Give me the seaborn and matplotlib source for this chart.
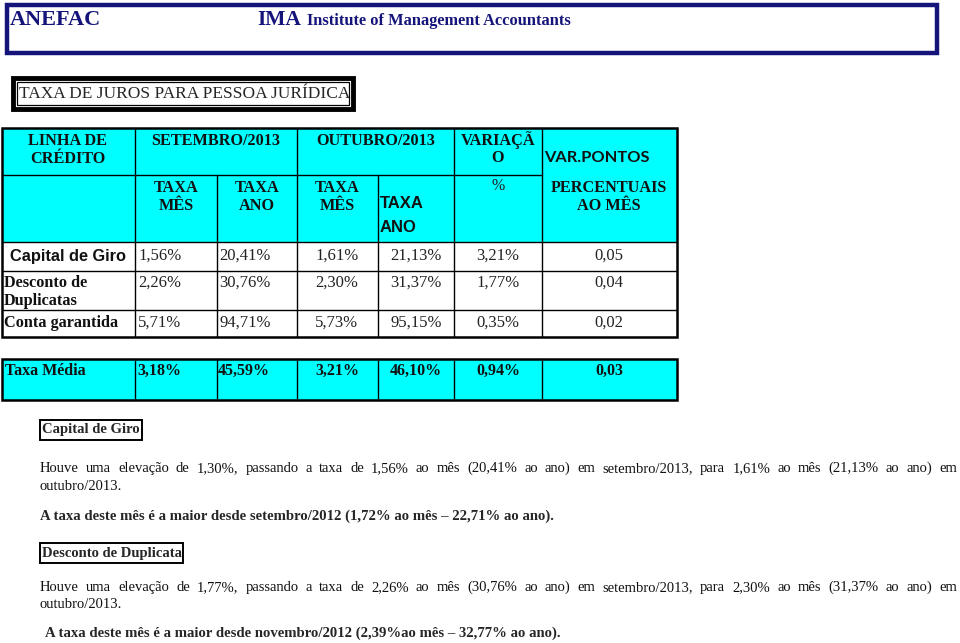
import matplotlib
matplotlib.use("Agg")
import matplotlib.pyplot as plt
from matplotlib.patches import Rectangle
import seaborn as sns

sns.set_theme(style="white")
plt.rcParams['font.family'] = ['Liberation Serif', 'DejaVu Sans']

# ---- data ----
linhas = ["Capital de Giro", "Desconto de\nDuplicatas", "Conta garantida"]
set_mes = [1.56, 2.26, 5.71]
set_ano = [20.41, 30.76, 94.71]
out_mes = [1.61, 2.30, 5.73]
out_ano = [21.13, 31.37, 95.15]
variacao = [3.21, 1.77, 0.35]
var_pontos = [0.05, 0.04, 0.02]
media = [3.18, 45.59, 3.21, 46.10, 0.94, 0.03]

txt_giro = ["Houve uma elevação de 1,30%, passando a taxa de 1,56% ao mês (20,41% ao ano) em setembro/2013, para 1,61% ao mês (21,13% ao ano) em",
            "outubro/2013.",
            "A taxa deste mês é a maior desde setembro/2012 (1,72% ao mês – 22,71% ao ano)."]
txt_dup = ["Houve uma elevação de 1,77%, passando a taxa de 2,26% ao mês (30,76% ao ano) em setembro/2013, para 2,30% ao mês (31,37% ao ano) em",
           "outubro/2013.",
           "A taxa deste mês é a maior desde novembro/2012 (2,39%ao mês – 32,77% ao ano)."]

def pct(v):
    return f"{v:.2f}".replace('.', ',') + '%'

def num(v):
    return f"{v:.2f}".replace('.', ',')

NAVY = "#14147a"
CYAN = "#00ffff"

fig = plt.figure(figsize=(9.6, 6.43), dpi=100)
ax = fig.add_axes([0, 0, 1, 1])
ax.set_xlim(0, 960)
ax.set_ylim(643, 0)
ax.axis('off')

def box(x0, y0, x1, y1, fc='none', ec='black', lw=1.0, z=1):
    ax.add_patch(Rectangle((x0, y0), x1 - x0, y1 - y0, facecolor=fc,
                           edgecolor=ec, lw=lw, zorder=z))

def line(x0, y0, x1, y1, lw=1.0):
    ax.plot([x0, x1], [y0, y1], color='black', lw=lw, zorder=3)

def stack(x, ys, parts, **kw):
    # one text per line so the line gap can follow the picture
    for y, p in zip(ys, parts):
        ax.text(x, y, p, va='center', **kw)

# ---- top banner ----
box(7, 5, 937, 53, ec=NAVY, lw=3.2)
ax.text(10, 20, "ANEFAC", color=NAVY, fontsize=16, fontweight='bold', va='center')
ax.text(257, 20, "IMA", color=NAVY, fontsize=15.5, fontweight='bold', va='center')
ax.text(307, 21, "Institute of Management Accountants", color=NAVY,
        fontsize=11.8, fontweight='bold', va='center')

# ---- title box ----
box(13, 78, 353, 109, lw=3.5)
box(17, 82, 349, 105, lw=0.9)
ax.text(19, 94, "TAXA DE JUROS PARA PESSOA JURÍDICA", fontsize=12.5, va='center')

# ---- main table ----
cols = [2, 135, 217, 297, 378, 454, 542, 677]
rows = [128, 175, 242, 271, 310, 337]
box(cols[0], rows[0], cols[-1], rows[2], fc=CYAN, ec='none', z=0)
box(cols[0], rows[0], cols[-1], rows[-1], lw=1.8, z=4)
line(cols[0], rows[1], cols[6], rows[1])
for r in rows[2:5]:
    line(cols[0], r, cols[-1], r)
for c in [135, 297, 454, 542]:
    line(c, rows[0], c, rows[-1])
for c in [217, 378]:
    line(c, rows[1], c, rows[-1])

hb = dict(fontsize=11.7, fontweight='bold', color='#111111', ha='center')
stack(68, [141, 159], ["LINHA DE", "CRÉDITO"], **hb)
ax.text(216, 141, "SETEMBRO/2013", va='center', **hb)
ax.text(376, 141, "OUTUBRO/2013", va='center', **hb)
stack(498, [140, 158], ["VARIAÇÃ", "O"], **hb)
ax.text(544, 158, "VAR.PONTOS", ha='left', va='center', fontsize=11.8,
        fontweight='bold', family='Lato', color='#111111')
for cx, lab in [(176, ["TAXA", "MÊS"]), (257, ["TAXA", "ANO"]), (337, ["TAXA", "MÊS"])]:
    stack(cx, [188, 206], lab, **hb)
stack(380, [203, 228], ["TAXA", "ANO"], ha='left', fontsize=12,
      fontweight='bold', family='Liberation Sans', color='#111111')
ax.text(498, 186, "%", ha='center', va='center', fontsize=11.5, color='#222222')
stack(609, [188, 206], ["PERCENTUAIS", "AO MÊS"], **hb)

vb = dict(fontsize=12, color='#222222', va='center')
row_y = [256, 283, 323]
ax.text(10, row_y[0], linhas[0], fontsize=11.8, fontweight='bold',
        family='Liberation Sans', va='center', color='#111111')
stack(4, [283, 301], linhas[1].split('\n'), fontsize=11.7, fontweight='bold',
      color='#111111')
ax.text(4, row_y[2], linhas[2], fontsize=11.7, fontweight='bold', va='center',
        color='#111111')
for i, y in enumerate(row_y):
    ax.text(138, y, pct(set_mes[i]), ha='left', **vb)
    ax.text(219, y, pct(set_ano[i]), ha='left', **vb)
    ax.text(337, y, pct(out_mes[i]), ha='center', **vb)
    ax.text(416, y, pct(out_ano[i]), ha='center', **vb)
    ax.text(498, y, pct(variacao[i]), ha='center', **vb)
    ax.text(609, y, num(var_pontos[i]), ha='center', **vb)

# ---- taxa media row ----
box(cols[0], 359, cols[-1], 400, fc=CYAN, lw=1.8)
for c in cols[1:-1]:
    line(c, 359, c, 400)
mb = dict(fontsize=11.5, fontweight='bold', color='#111111', va='center')
ax.text(5, 371, "Taxa Média", ha='left', **mb)
ax.text(137, 371, pct(media[0]), ha='left', **mb)
ax.text(218, 371, pct(media[1]), ha='left', **mb)
for cx, v in zip([337, 416, 498], media[2:5]):
    ax.text(cx, 371, pct(v), ha='center', **mb)
ax.text(609, 371, num(media[5]), ha='center', **mb)

# ---- comments ----
renderer = fig.canvas.get_renderer()

def justify(text, y, x0, x1, **kw):
    words = text.split()
    objs = [ax.text(0, y + 4, w, ha='left', va='baseline', **kw) for w in words]
    widths = [o.get_window_extent(renderer).width for o in objs]
    gap = (x1 - x0 - sum(widths)) / (len(words) - 1)
    x = x0
    for o, w in zip(objs, widths):
        o.set_x(x)
        x += w + gap

def section(label, y_label, x_label_end, lines, ys, x_bold):
    box(40, y_label - 10, x_label_end, y_label + 10, lw=1.4)
    ax.text(42, y_label, label, fontsize=10.5, fontweight='bold', va='center')
    justify(lines[0], ys[0], 40, 957, fontsize=10.5, color='#111111')
    ax.text(40, ys[1], lines[1], fontsize=10.5, va='center', color='#111111')
    ax.text(x_bold, ys[2], lines[2], fontsize=10.6, fontweight='bold', va='center')

section("Capital de Giro", 430, 142, txt_giro, [468, 487, 516], 40)
section("Desconto de Duplicata", 553, 183, txt_dup, [587, 605, 633], 45)

fig.savefig("out.png", dpi=100)
